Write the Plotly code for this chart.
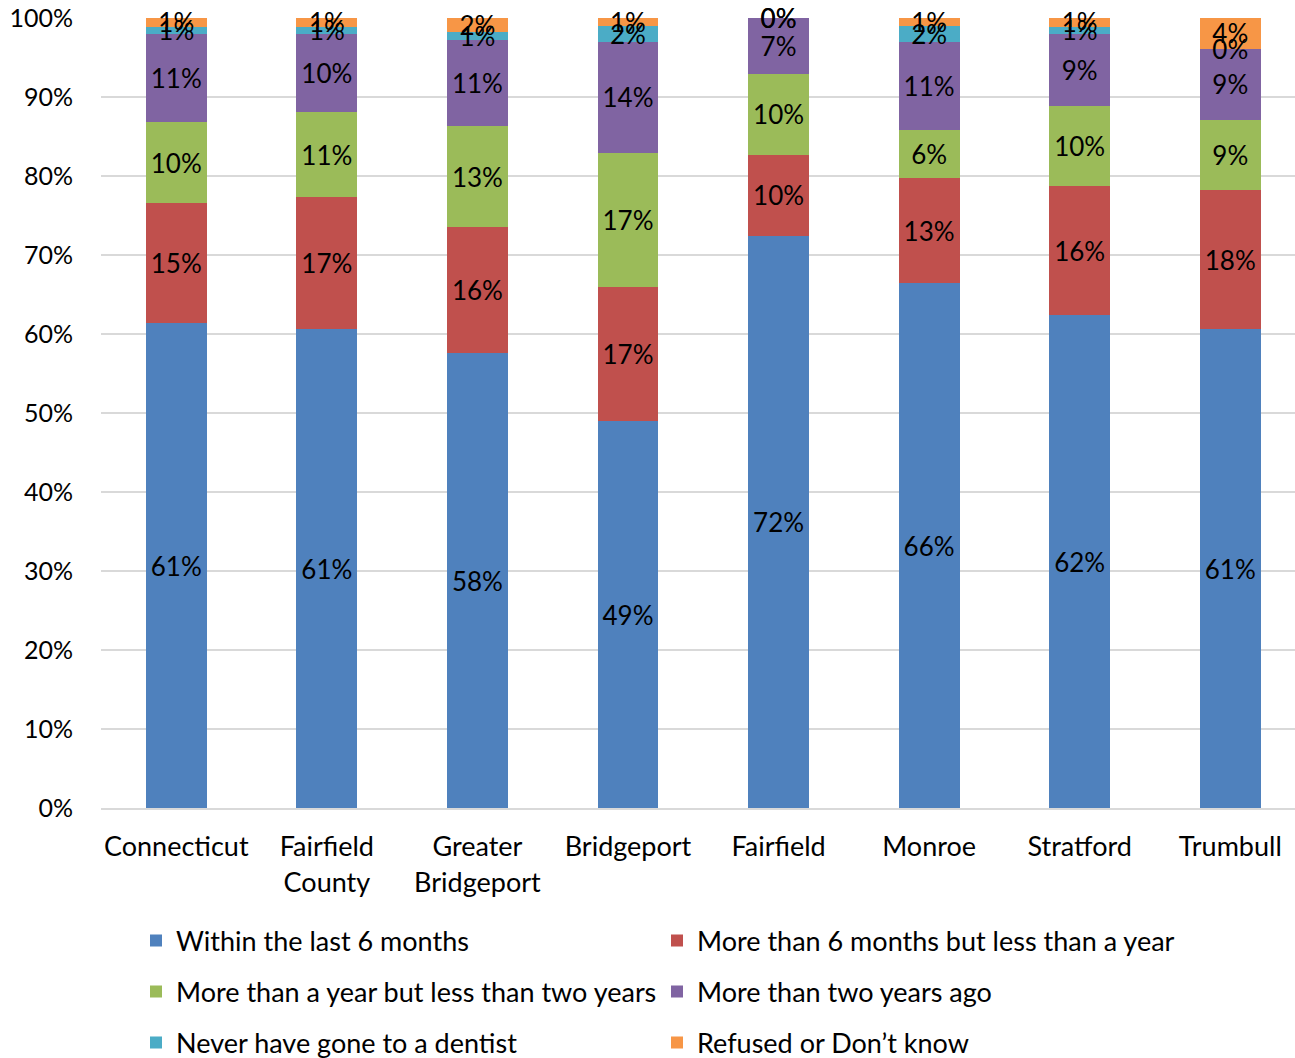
import plotly.graph_objects as go

categories = ["Connecticut", "Fairfield<br>County", "Greater<br>Bridgeport", "Bridgeport",
              "Fairfield", "Monroe", "Stratford", "Trumbull"]

within_6_months = [61.4, 60.6, 57.6, 49.0, 72.4, 66.4, 62.4, 60.6]
six_months_to_year = [15.2, 16.7, 15.9, 16.9, 10.3, 13.3, 16.3, 17.6]
year_to_two_years = [10.2, 10.8, 12.8, 17.0, 10.2, 6.1, 10.2, 8.9]
more_than_two_years = [11.2, 9.9, 10.9, 14.1, 7.1, 11.2, 9.1, 9.0]
never_dentist = [0.9, 0.9, 1.0, 2.0, 0.0, 2.0, 0.9, 0.0]
refused_dont_know = [1.1, 1.1, 1.8, 1.0, 0.0, 1.0, 1.1, 3.9]

series = [
    ("Within the last 6 months", within_6_months, "#4F81BD", "legend"),
    ("More than 6 months but less than a year", six_months_to_year, "#C0504D", "legend"),
    ("More than a year but less than two years", year_to_two_years, "#9BBB59", "legend2"),
    ("More than two years ago", more_than_two_years, "#8064A2", "legend2"),
    ("Never have gone to a dentist", never_dentist, "#4BACC6", "legend3"),
    ("Refused or Don\u2019t know", refused_dont_know, "#F79646", "legend3"),
]

FONT = "Lato, 'Open Sans', sans-serif"
LABEL_SIZE = 26
W, H = 1295, 1058
TEXT_NUDGE = 0.45  # small downward optical correction of label baseline (axis units)

fig = go.Figure()
base = [0.0] * len(categories)
lab_x, lab_y, lab_t = [], [], []
for name, vals, color, lg in series:
    fig.add_trace(go.Bar(
        name=name, x=categories, y=vals,
        marker=dict(color=color, line=dict(width=0)),
        legend=lg, hoverinfo="x+y+name",
    ))
    for i, v in enumerate(vals):
        lab_x.append(categories[i])
        lab_y.append(base[i] + v / 2 - TEXT_NUDGE)
        lab_t.append(f"{v:.0f}%")
        base[i] += v

# data labels centred on each segment
fig.add_trace(go.Scatter(
    x=lab_x, y=lab_y, mode="text", text=lab_t,
    textposition="middle center", cliponaxis=False, showlegend=False, hoverinfo="skip",
    textfont=dict(color="black", size=LABEL_SIZE, family=FONT),
))

leg_common = dict(orientation="h", xanchor="left", yanchor="middle", entrywidth=476,
                  entrywidthmode="pixels", font=dict(size=27, family=FONT, color="black"),
                  bgcolor="rgba(0,0,0,0)", traceorder="normal",
                  xref="container", yref="container")

fig.update_layout(
    barmode="stack",
    bargap=0.595,
    width=W, height=H,
    margin=dict(l=101, r=0, t=18, b=250),
    plot_bgcolor="white", paper_bgcolor="white",
    font=dict(family=FONT, size=26, color="black"),
    xaxis=dict(range=[-0.5, 7.43], showgrid=False, showline=True, linecolor="#D9D9D9",
               linewidth=2, ticks="", tickfont=dict(size=27), ticklabelstandoff=14,
               automargin=False),
    yaxis=dict(range=[0, 100], dtick=10, ticksuffix="%", showgrid=True, gridcolor="#D9D9D9",
               gridwidth=2, zeroline=False, ticks="", tickfont=dict(size=25),
               ticklabelstandoff=27, automargin=False),
    legend=dict(x=136 / W, y=1 - 941 / H, **leg_common),
    legend2=dict(x=136 / W, y=1 - 992 / H, **leg_common),
    legend3=dict(x=136 / W, y=1 - 1043 / H, **leg_common),
)

fig.write_html(
    "out.html",
    config={"displayModeBar": False},
    post_script="document.body.style.margin='0px';"
                "document.documentElement.style.overflow='hidden';",
)
